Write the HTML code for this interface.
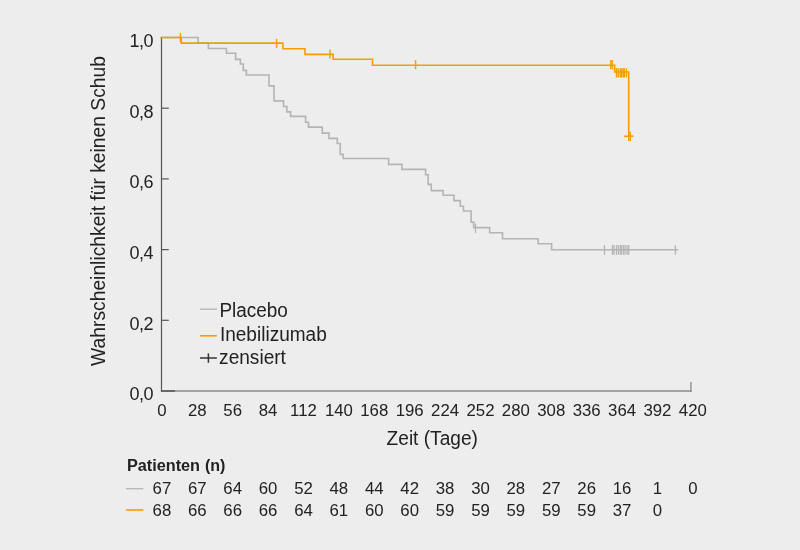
<!DOCTYPE html>
<html><head><meta charset="utf-8"><style>
html,body{margin:0;padding:0;background:#ededed;}
svg{display:block;will-change:transform;}
text{font-family:"Liberation Sans",sans-serif;fill:#222222;}
</style></head><body>
<svg width="800" height="550" viewBox="0 0 800 550">
<rect width="800" height="550" fill="#ededed"/>
<g stroke="#555" stroke-width="1.2" fill="none">
<line x1="161.5" y1="37" x2="161.5" y2="391.5"/>
<line x1="161.5" y1="108.2" x2="168.8" y2="108.2"/><line x1="161.5" y1="178.9" x2="168.8" y2="178.9"/><line x1="161.5" y1="249.6" x2="168.8" y2="249.6"/><line x1="161.5" y1="320.3" x2="168.8" y2="320.3"/>
</g>
<line x1="175" y1="391" x2="691.6" y2="391" stroke="#a2a2a2" stroke-width="1.8"/>
<line x1="160.9" y1="391" x2="175" y2="391" stroke="#5a5a5a" stroke-width="1.8"/>
<line x1="690.9" y1="382" x2="690.9" y2="391.9" stroke="#8f8f8f" stroke-width="1.4"/>
<g font-size="18"><text x="153.1" y="46.9" text-anchor="end" letter-spacing="-0.5">1,0</text><text x="153.1" y="117.6" text-anchor="end" letter-spacing="-0.5">0,8</text><text x="153.1" y="187.8" text-anchor="end" letter-spacing="-0.5">0,6</text><text x="153.1" y="258.6" text-anchor="end" letter-spacing="-0.5">0,4</text><text x="153.1" y="329.8" text-anchor="end" letter-spacing="-0.5">0,2</text><text x="153.1" y="399.8" text-anchor="end" letter-spacing="-0.5">0,0</text></g>
<g font-size="16.8"><text x="161.90" y="416" text-anchor="middle">0</text><text x="197.30" y="416" text-anchor="middle">28</text><text x="232.69" y="416" text-anchor="middle">56</text><text x="268.09" y="416" text-anchor="middle">84</text><text x="303.49" y="416" text-anchor="middle">112</text><text x="338.88" y="416" text-anchor="middle">140</text><text x="374.28" y="416" text-anchor="middle">168</text><text x="409.68" y="416" text-anchor="middle">196</text><text x="445.08" y="416" text-anchor="middle">224</text><text x="480.47" y="416" text-anchor="middle">252</text><text x="515.87" y="416" text-anchor="middle">280</text><text x="551.27" y="416" text-anchor="middle">308</text><text x="586.66" y="416" text-anchor="middle">336</text><text x="622.06" y="416" text-anchor="middle">364</text><text x="657.46" y="416" text-anchor="middle">392</text><text x="692.85" y="416" text-anchor="middle">420</text></g>
<path d="M161.5,37.5 H198.1 V43.1 H208.4 V48.5 H226.5 V53.2 H235.6 V59.4 H240.4 V64 H243.3 V70.4 H246.4 V75 H269 V85.9 H274 V100.9 H283.5 V106.5 H286.9 V111.9 H290.6 V116.4 H305.6 V122.25 H308.5 V127.1 H322.25 V133.1 H329 V138.4 H337.25 V143.5 H340.25 V154.4 H343.1 V158.5 H388.6 V164.4 H401.9 V169.4 H425.6 V174.75 H428.1 V184.4 H431.25 V190.6 H443.1 V195.25 H454 V200.6 H460.25 V206.25 H463.5 V211 H471.1 V222.1 H473.7 V227.6 H489.7 V232.75 H502.5 V238.75 H538.1 V243.75 H551.6 V249.8 H678.2" fill="none" stroke="#b4b4b4" stroke-width="1.6"/>
<g stroke="#b4b4b4" stroke-width="1.3"><line x1="475.5" y1="223.5" x2="475.5" y2="233.10000000000002"/><line x1="604.5" y1="245.1" x2="604.5" y2="254.70000000000002"/><line x1="612.5" y1="245.1" x2="612.5" y2="254.70000000000002"/><line x1="614.0" y1="245.1" x2="614.0" y2="254.70000000000002"/><line x1="616.5" y1="245.1" x2="616.5" y2="254.70000000000002"/><line x1="618.5" y1="245.1" x2="618.5" y2="254.70000000000002"/><line x1="620.5" y1="245.1" x2="620.5" y2="254.70000000000002"/><line x1="621.2" y1="245.1" x2="621.2" y2="254.70000000000002"/><line x1="623.3" y1="245.1" x2="623.3" y2="254.70000000000002"/><line x1="625.0" y1="245.1" x2="625.0" y2="254.70000000000002"/><line x1="627.0" y1="245.1" x2="627.0" y2="254.70000000000002"/><line x1="628.7" y1="245.1" x2="628.7" y2="254.70000000000002"/><line x1="675.4" y1="245.1" x2="675.4" y2="254.70000000000002"/></g>
<line x1="160.2" y1="37.5" x2="162" y2="37.5" stroke="#f49d00" stroke-width="1.6"/><path d="M161.5,37.5 H181.3 V43.1 H282.9 V48.8 H305 V54.4 H333.1 V59.3 H372.5 V65.3 H614.7 V72 H628.7 V136.3 H633.2" fill="none" stroke="#f49d00" stroke-width="1.6"/>
<g stroke="#f49d00" stroke-width="1.4"><line x1="180.4" y1="32.9" x2="180.4" y2="42.1"/><line x1="276.6" y1="38.8" x2="276.6" y2="48.0"/><line x1="330" y1="49.4" x2="330" y2="58.6"/><line x1="415.6" y1="60.1" x2="415.6" y2="69.3"/><line x1="610.8" y1="59.99999999999999" x2="610.8" y2="69.19999999999999"/><line x1="612.2" y1="59.99999999999999" x2="612.2" y2="69.19999999999999"/><line x1="616.5" y1="68.2" x2="616.5" y2="77.39999999999999"/><line x1="618.2" y1="68.2" x2="618.2" y2="77.39999999999999"/><line x1="620.3" y1="68.2" x2="620.3" y2="77.39999999999999"/><line x1="621.7" y1="68.2" x2="621.7" y2="77.39999999999999"/><line x1="623.3" y1="68.2" x2="623.3" y2="77.39999999999999"/><line x1="624.3" y1="68.2" x2="624.3" y2="77.39999999999999"/><line x1="626.4" y1="68.2" x2="626.4" y2="77.39999999999999"/><line x1="628.7" y1="131.70000000000002" x2="628.7" y2="140.9"/><line x1="630.3" y1="131.70000000000002" x2="630.3" y2="140.9"/><line x1="624" y1="136.3" x2="633.2" y2="136.3" stroke-width="1.6"/></g>
<line x1="199.9" y1="309.2" x2="216.9" y2="309.2" stroke="#b4b4b4" stroke-width="1.3"/>
<line x1="199.9" y1="335.8" x2="216.9" y2="335.8" stroke="#f49d00" stroke-width="1.6"/>
<g stroke="#333" stroke-width="1.5"><line x1="200" y1="358" x2="216.8" y2="358"/><line x1="208.4" y1="353.4" x2="208.4" y2="362.8"/></g>
<text id="placebo" x="219.40" y="316.90" font-size="19.5" textLength="68.46" lengthAdjust="spacingAndGlyphs">Placebo</text>
<text id="inebi" x="219.93" y="341.00" font-size="19.5" textLength="106.83" lengthAdjust="spacingAndGlyphs">Inebilizumab</text>
<text id="zens" x="219.10" y="363.90" font-size="19.5" textLength="66.83" lengthAdjust="spacingAndGlyphs">zensiert</text>
<text id="ylab" x="-365.90" y="104.60" font-size="20" transform="rotate(-90)" textLength="309.80" lengthAdjust="spacingAndGlyphs">Wahrscheinlichkeit für keinen Schub</text>
<text id="zeit" x="386.59" y="444.75" font-size="20" textLength="91.32" lengthAdjust="spacingAndGlyphs">Zeit (Tage)</text>
<text id="pat" x="126.99" y="470.60" font-size="16" textLength="73.04" lengthAdjust="spacingAndGlyphs" font-weight="bold">Patienten</text>
<text id="pat2" x="205.00" y="470.60" font-size="16" textLength="20.44" lengthAdjust="spacingAndGlyphs" font-weight="bold">(n)</text>
<line x1="126" y1="488.7" x2="143.3" y2="488.7" stroke="#b4b4b4" stroke-width="1.3"/>
<line x1="126" y1="510" x2="143.3" y2="510" stroke="#f49d00" stroke-width="1.6"/>
<g font-size="16.8"><text x="161.90" y="494" text-anchor="middle">67</text><text x="197.30" y="494" text-anchor="middle">67</text><text x="232.69" y="494" text-anchor="middle">64</text><text x="268.09" y="494" text-anchor="middle">60</text><text x="303.49" y="494" text-anchor="middle">52</text><text x="338.88" y="494" text-anchor="middle">48</text><text x="374.28" y="494" text-anchor="middle">44</text><text x="409.68" y="494" text-anchor="middle">42</text><text x="445.08" y="494" text-anchor="middle">38</text><text x="480.47" y="494" text-anchor="middle">30</text><text x="515.87" y="494" text-anchor="middle">28</text><text x="551.27" y="494" text-anchor="middle">27</text><text x="586.66" y="494" text-anchor="middle">26</text><text x="622.06" y="494" text-anchor="middle">16</text><text x="657.46" y="494" text-anchor="middle">1</text><text x="692.85" y="494" text-anchor="middle">0</text><text x="161.90" y="516" text-anchor="middle">68</text><text x="197.30" y="516" text-anchor="middle">66</text><text x="232.69" y="516" text-anchor="middle">66</text><text x="268.09" y="516" text-anchor="middle">66</text><text x="303.49" y="516" text-anchor="middle">64</text><text x="338.88" y="516" text-anchor="middle">61</text><text x="374.28" y="516" text-anchor="middle">60</text><text x="409.68" y="516" text-anchor="middle">60</text><text x="445.08" y="516" text-anchor="middle">59</text><text x="480.47" y="516" text-anchor="middle">59</text><text x="515.87" y="516" text-anchor="middle">59</text><text x="551.27" y="516" text-anchor="middle">59</text><text x="586.66" y="516" text-anchor="middle">59</text><text x="622.06" y="516" text-anchor="middle">37</text><text x="657.46" y="516" text-anchor="middle">0</text></g>
</svg>
</body></html>
